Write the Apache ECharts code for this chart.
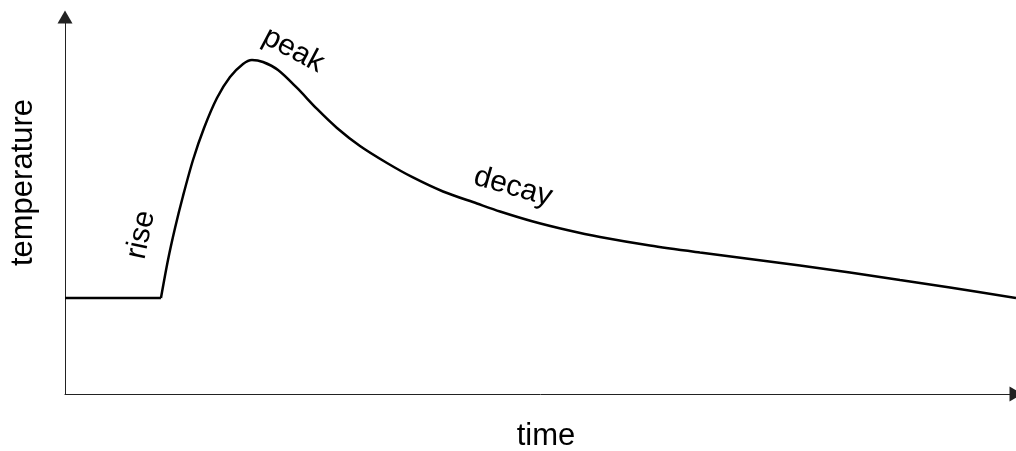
<!DOCTYPE html>
<html>
<head>
<meta charset="utf-8">
<script src="https://cdn.jsdelivr.net/npm/echarts@6/dist/echarts.min.js"></script>
<style>
html,body{margin:0;padding:0;background:#fff;}
#chart{width:1016px;height:451px;}
</style>
</head>
<body>
<div id="chart"></div>
<script>
// time (arbitrary units 0-100) and temperature (arbitrary units 0-100)
const baselineTime = [0, 10.09];
const baselineTemp = [25.46, 25.46];
const curveTime = [10.09, 10.83, 11.57, 12.41, 13.46, 14.62, 15.98, 17.35, 18.72, 19.66, 20.82, 22.40, 24.40, 26.50, 28.60, 31.02, 33.86, 36.59, 39.75, 43.32, 45.74, 49.21, 52.79, 56.26, 61.51, 66.77, 72.03, 77.29, 82.54, 87.80, 93.06, 100];
const curveTemp = [25.46, 35.54, 44.03, 52.52, 62.07, 70.56, 78.51, 84.08, 87.53, 88.59, 88.06, 85.94, 81.17, 75.60, 70.56, 65.78, 61.27, 57.43, 53.71, 50.53, 48.41, 45.76, 43.50, 41.64, 39.39, 37.53, 35.81, 34.08, 32.23, 30.24, 28.25, 25.46];
const annotationText = ['rise', 'peak', 'decay'];
const annotationTime = [8.0, 24.0, 47.1];
const annotationTemp = [42.2, 91.2, 54.9];
const annotationAngle = [78, -28, -16];

const FONT = 'Liberation Sans, Arial, sans-serif';
const chart = echarts.init(document.getElementById('chart'), null, {renderer: 'canvas'});

const axisCommon = {
  type: 'value',
  min: 0,
  max: 100,
  axisLine: {
    show: true,
    symbol: ['none', 'triangle'],
    symbolSize: [15, 13],
    lineStyle: {color: '#222', width: 1}
  },
  axisTick: {show: false},
  axisLabel: {show: false},
  splitLine: {show: false}
};

chart.setOption({
  animation: false,
  backgroundColor: '#fff',
  grid: {left: 65, right: 0, top: 17, bottom: 57, outerBoundsMode: 'none'},
  xAxis: Object.assign({}, axisCommon, {
    name: 'time',
    nameLocation: 'middle',
    nameGap: 27,
    nameTextStyle: {fontFamily: FONT, fontSize: 31, color: '#000', padding: [0, 0, 0, 11]}
  }),
  yAxis: Object.assign({}, axisCommon, {
    name: 'temperature',
    nameLocation: 'middle',
    nameGap: 26,
    nameRotate: 90,
    nameTextStyle: {fontFamily: FONT, fontSize: 31, color: '#000', padding: [0, 0, 0, 46]}
  }),
  series: [
    {
      type: 'line',
      data: baselineTime.map((t, i) => [t, baselineTemp[i]]),
      showSymbol: false,
      symbol: 'none',
      lineStyle: {color: '#000', width: 2.5},
      silent: true
    },
    {
      type: 'line',
      data: curveTime.map((t, i) => [t, curveTemp[i]]),
      smooth: 0.3,
      showSymbol: false,
      symbol: 'none',
      lineStyle: {color: '#000', width: 2.5},
      silent: true,
      markPoint: {
        symbol: 'circle',
        symbolSize: 0,
        silent: true,
        data: annotationText.map((txt, i) => ({
          name: txt,
          coord: [annotationTime[i], annotationTemp[i]],
          label: {
            show: true,
            position: 'inside',
            formatter: txt,
            rotate: annotationAngle[i],
            fontFamily: FONT,
            fontSize: 30,
            color: '#000'
          }
        }))
      }
    }
  ]
});
</script>
</body>
</html>
